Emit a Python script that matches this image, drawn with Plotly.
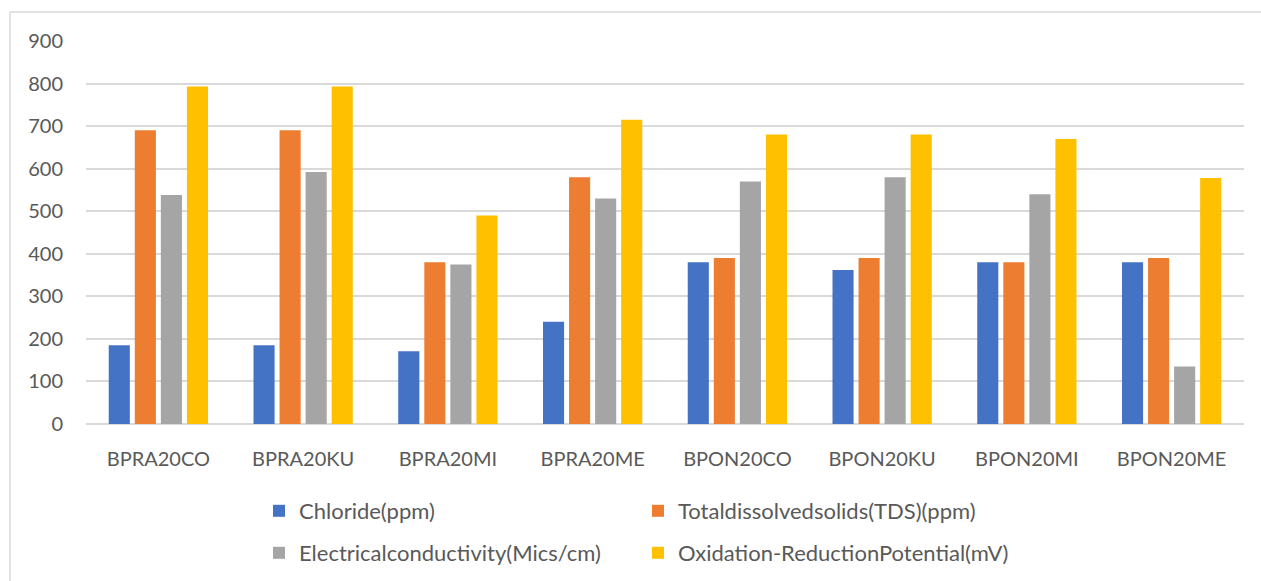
import plotly.graph_objects as go

# Sampling sites
sites = ["BPRA20CO", "BPRA20KU", "BPRA20MI", "BPRA20ME",
         "BPON20CO", "BPON20KU", "BPON20MI", "BPON20ME"]

# Measured parameters per site
chloride = [185, 185, 171, 240, 380, 362, 380, 380]
tds = [690, 690, 380, 580, 390, 390, 380, 390]
conductivity = [538, 592, 375, 530, 570, 580, 540, 135]
orp = [793, 793, 490, 715, 680, 680, 670, 578]

series = [
    ("Chloride(ppm)", chloride, "#4472C4", "legend"),
    ("Totaldissolvedsolids(TDS)(ppm)", tds, "#ED7D31", "legend"),
    ("Electricalconductivity(Mics/cm)", conductivity, "#A5A5A5", "legend2"),
    ("Oxidation-ReductionPotential(mV)", orp, "#FFC000", "legend2"),
]

FONT = "Lato, 'Noto Sans', sans-serif"
TEXT = "#595959"
GRID = "#D9D9D9"

fig = go.Figure()
for name, vals, color, leg in series:
    fig.add_trace(go.Bar(x=sites, y=vals, name=name, marker_color=color,
                         marker_line_width=0, legend=leg))

W, H = 1261, 581
L, R, T, B = 86, 17, 41, 157
pw, ph = W - L - R, H - T - B


def px_x(v):
    return (v - L) / pw


def px_y(v):
    return (H - B - v) / ph


legend_common = dict(orientation="h", xanchor="left", yanchor="middle",
                     x=px_x(259), entrywidth=334, entrywidthmode="pixels",
                     font=dict(family=FONT, size=22, color=TEXT),
                     bgcolor="rgba(0,0,0,0)", traceorder="normal")

fig.update_layout(
    width=W, height=H,
    margin=dict(l=L, r=R, t=T, b=B, autoexpand=False),
    paper_bgcolor="white", plot_bgcolor="white",
    barmode="group", bargap=0.28, bargroupgap=0.19,
    font=dict(family=FONT, color=TEXT),
    legend=dict(y=px_y(511), **legend_common),
    legend2=dict(y=px_y(553), **legend_common),
    xaxis=dict(showgrid=False, showline=False, zeroline=False,
               ticks="", ticklabelstandoff=21,
               tickfont=dict(family=FONT, size=20, color=TEXT)),
    yaxis=dict(range=[0, 900], dtick=100, showgrid=True, gridcolor=GRID,
               gridwidth=1.5, zeroline=True, zerolinecolor=GRID,
               zerolinewidth=1.5, showline=False, ticks="",
               ticklabelstandoff=22,
               tickfont=dict(family=FONT, size=20, color=TEXT)),
    shapes=[dict(type="rect", xref="paper", yref="paper",
                 x0=px_x(10), x1=px_x(W + 10), y0=px_y(H + 10), y1=px_y(12),
                 line=dict(color=GRID, width=1.5), layer="below")],
)

fig.write_html("out.html")
